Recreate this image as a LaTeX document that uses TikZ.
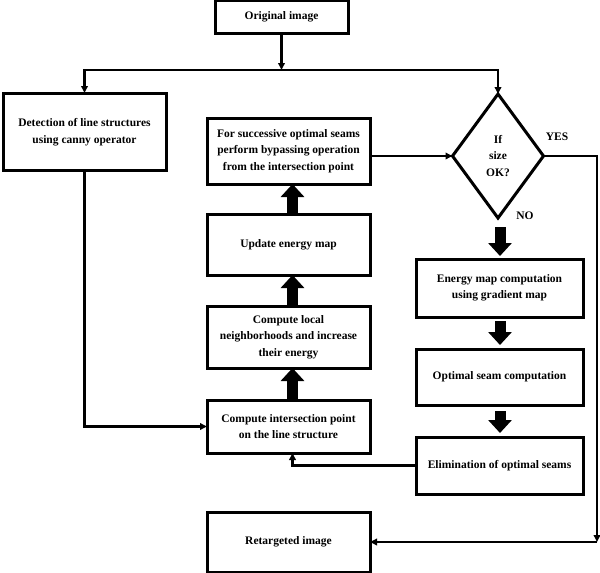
\documentclass[tikz,border=0pt]{standalone}
\usepackage{fontspec}
\setmainfont{Liberation Serif}
\usetikzlibrary{shapes.geometric,arrows.meta}
\begin{document}
\begin{tikzpicture}[x=1pt,y=-1pt,
  every node/.style={font=\fontsize{11.5}{16.5}\selectfont\bfseries},
  box/.style={draw,line width=3pt,align=center,inner sep=0pt,outer sep=0pt},
  conn/.style={line width=2.2pt,-{Triangle[length=7pt,width=6.5pt]}},
  plain/.style={line width=2.2pt},
  blockarrow/.style={line width=11pt,-{Triangle[length=13pt,width=23pt]}},
  lbl/.style={inner sep=0pt}]
\useasboundingbox (0,0) rectangle (600,573);
% nodes
\node[box,minimum width=133pt,minimum height=33pt] (orig) at (281.5,16.5) {Original image};
\node[box,minimum width=163pt,minimum height=77pt] (det) at (84.5,131.5) {\raisebox{5pt}{\begin{tabular}{@{}c@{}}Detection of line structures\\using canny operator\end{tabular}}};
\node[box,minimum width=163pt,minimum height=66pt] (succ) at (288.5,151) {For successive optimal seams\\perform bypassing operation\\from the intersection point};
\node[box,minimum width=163pt,minimum height=61pt] (upd) at (288.5,244.5) {Update energy map};
\node[box,minimum width=163pt,minimum height=62pt] (loc) at (288.5,337) {Compute local\\neighborhoods and increase\\their energy};
\node[box,minimum width=163pt,minimum height=53pt] (inter) at (288.5,426.5) {Compute intersection point\\on the line structure};
\node[box,minimum width=163pt,minimum height=60pt] (ret) at (288.5,542) {Retargeted image};
\node[draw,diamond,line width=3pt,inner sep=0pt,outer sep=0pt,minimum width=91pt,minimum height=124pt,align=center] (dia) at (498,156) {If\\size\\OK?};
\node[box,minimum width=167pt,minimum height=58pt] (en) at (499.5,288) {Energy map computation\\using gradient map};
\node[box,minimum width=167pt,minimum height=56pt] (opt) at (499.5,377) {Optimal seam computation};
\node[box,minimum width=167pt,minimum height=57pt] (elim) at (499.5,465.5) {Elimination of optimal seams};
\node[lbl] (yes) at (557,137) {YES};
\node[lbl] (no) at (525,216) {NO};
% coordinates
\coordinate (split) at (281.5,70);
\coordinate (yc) at (597,542);
\coordinate (lx) at (292.5,0);
\coordinate (rx) at (500,0);
% thin connectors
\draw[conn] (orig.south) -- (split);
\draw[plain] (det.north |- split) -- (dia.north |- split);
\draw[conn] (split) -| (det.north);
\draw[conn] (split) -| (dia.north);
\draw[conn] (det.south) |- (inter.west);
\draw[conn] (dia.west -| succ.east) -- (dia.west);
\draw[conn] (dia.east) -| (yc);
\draw[conn] (yc) -- (ret.east);
\draw[conn] (elim.west) -| (inter.south -| lx);
% block arrows up (left column)
\draw[blockarrow] (upd.north -| lx) -- (succ.south -| lx);
\draw[blockarrow] (loc.north -| lx) -- (upd.south -| lx);
\draw[blockarrow] (inter.north -| lx) -- (loc.south -| lx);
% block arrows down (right column)
\draw[blockarrow,shorten <=9pt,shorten >=3pt] (dia.south -| rx) -- (en.north -| rx);
\draw[blockarrow,shorten <=4pt,shorten >=4pt] (en.south -| rx) -- (opt.north -| rx);
\draw[blockarrow,shorten <=6pt,shorten >=4pt] (opt.south -| rx) -- (elim.north -| rx);
\end{tikzpicture}
\end{document}
